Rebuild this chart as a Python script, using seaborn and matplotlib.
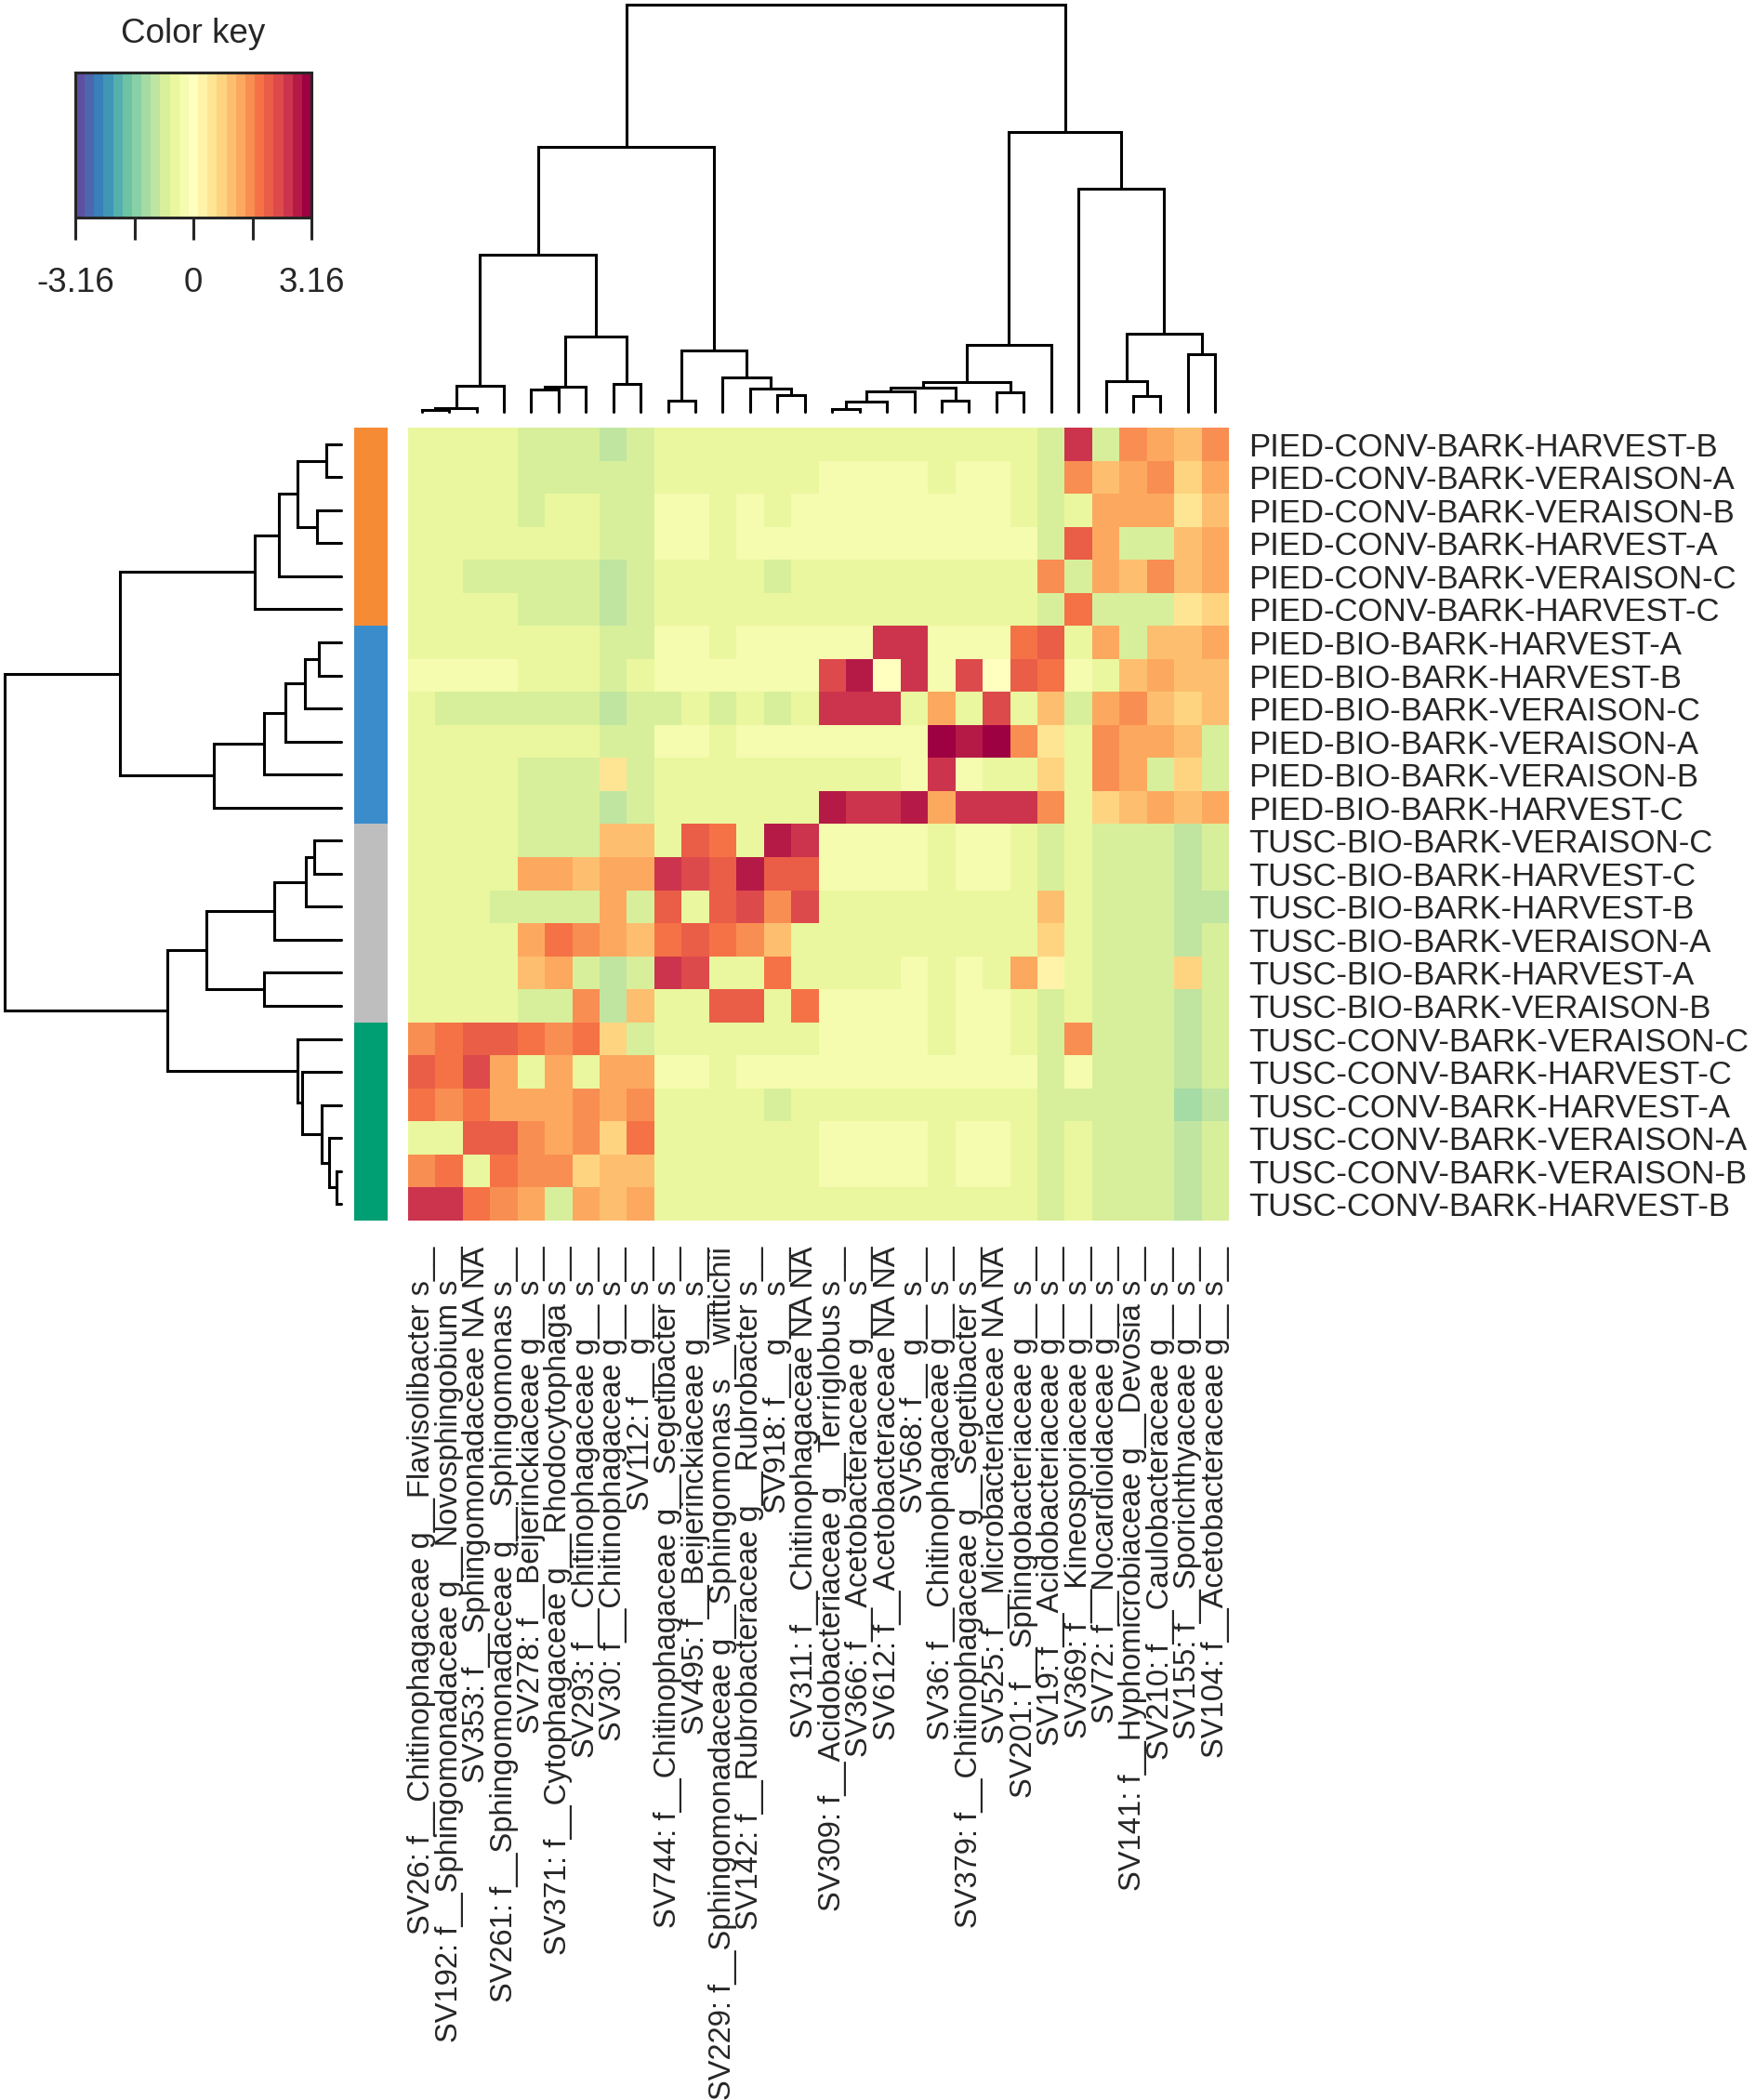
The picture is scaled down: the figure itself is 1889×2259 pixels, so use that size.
import numpy as np
import pandas as pd
import matplotlib
matplotlib.use("Agg")
import matplotlib.pyplot as plt
import seaborn as sns
from matplotlib.colors import LinearSegmentedColormap, ListedColormap, Normalize
from matplotlib.cm import ScalarMappable

# ---- data ----
samples = [
    "PIED-CONV-BARK-HARVEST-B", "PIED-CONV-BARK-VERAISON-A", "PIED-CONV-BARK-VERAISON-B",
    "PIED-CONV-BARK-HARVEST-A", "PIED-CONV-BARK-VERAISON-C", "PIED-CONV-BARK-HARVEST-C",
    "PIED-BIO-BARK-HARVEST-A", "PIED-BIO-BARK-HARVEST-B", "PIED-BIO-BARK-VERAISON-C",
    "PIED-BIO-BARK-VERAISON-A", "PIED-BIO-BARK-VERAISON-B", "PIED-BIO-BARK-HARVEST-C",
    "TUSC-BIO-BARK-VERAISON-C", "TUSC-BIO-BARK-HARVEST-C", "TUSC-BIO-BARK-HARVEST-B",
    "TUSC-BIO-BARK-VERAISON-A", "TUSC-BIO-BARK-HARVEST-A", "TUSC-BIO-BARK-VERAISON-B",
    "TUSC-CONV-BARK-VERAISON-C", "TUSC-CONV-BARK-HARVEST-C", "TUSC-CONV-BARK-HARVEST-A",
    "TUSC-CONV-BARK-VERAISON-A", "TUSC-CONV-BARK-VERAISON-B", "TUSC-CONV-BARK-HARVEST-B",
]

taxa = [
    "SV26: f__Chitinophagaceae g__Flavisolibacter s__",
    "SV192: f__Sphingomonadaceae g__Novosphingobium s__",
    "SV353: f__Sphingomonadaceae NA NA",
    "SV261: f__Sphingomonadaceae g__Sphingomonas s__",
    "SV278: f__Beijerinckiaceae g__ s__",
    "SV371: f__Cytophagaceae g__Rhodocytophaga s__",
    "SV293: f__Chitinophagaceae g__ s__",
    "SV30: f__Chitinophagaceae g__ s__",
    "SV112: f__ g__ s__",
    "SV744: f__Chitinophagaceae g__Segetibacter s__",
    "SV495: f__Beijerinckiaceae g__ s__",
    "SV229: f__Sphingomonadaceae g__Sphingomonas s__wittichii",
    "SV142: f__Rubrobacteraceae g__Rubrobacter s__",
    "SV918: f__ g__ s__",
    "SV311: f__Chitinophagaceae NA NA",
    "SV309: f__Acidobacteriaceae g__Terriglobus s__",
    "SV366: f__Acetobacteraceae g__ s__",
    "SV612: f__Acetobacteraceae NA NA",
    "SV568: f__ g__ s__",
    "SV36: f__Chitinophagaceae g__ s__",
    "SV379: f__Chitinophagaceae g__Segetibacter s__",
    "SV525: f__Microbacteriaceae NA NA",
    "SV201: f__Sphingobacteriaceae g__ s__",
    "SV19: f__Acidobacteriaceae g__ s__",
    "SV369: f__Kineosporiaceae g__ s__",
    "SV72: f__Nocardioidaceae g__ s__",
    "SV141: f__Hyphomicrobiaceae g__Devosia s__",
    "SV210: f__Caulobacteraceae g__ s__",
    "SV155: f__Sporichthyaceae g__ s__",
    "SV104: f__Acetobacteraceae g__ s__",
]

# z-scores, one row per sample (same order as samples)
zscores = [
    [-.5, -.5, -.5, -.5, -.75, -.75, -.75, -1, -.75, -.5, -.5, -.5, -.5, -.5, -.5, -.5, -.5, -.5, -.5, -.5, -.5, -.5, -.5, -.75, 2.5, -.75, 1.5, 1.25, 1, 1.5],
    [-.5, -.5, -.5, -.5, -.75, -.75, -.75, -.75, -.75, -.5, -.5, -.5, -.5, -.5, -.5, -.25, -.25, -.25, -.25, -.5, -.25, -.25, -.5, -.75, 1.5, 1, 1.25, 1.5, .75, 1.25],
    [-.5, -.5, -.5, -.5, -.75, -.5, -.5, -.75, -.75, -.25, -.25, -.5, -.25, -.5, -.25, -.25, -.25, -.25, -.25, -.25, -.25, -.25, -.5, -.75, -.5, 1.25, 1.25, 1.25, .5, 1],
    [-.5, -.5, -.5, -.5, -.5, -.5, -.5, -.75, -.75, -.25, -.25, -.5, -.25, -.25, -.25, -.25, -.25, -.25, -.25, -.25, -.25, -.25, -.25, -.75, 2, 1.25, -.75, -.75, 1, 1.25],
    [-.5, -.5, -.75, -.75, -.75, -.75, -.75, -1, -.75, -.5, -.5, -.5, -.5, -.75, -.5, -.5, -.5, -.5, -.5, -.5, -.5, -.5, -.5, 1.5, -.75, 1.25, 1, 1.5, 1, 1.25],
    [-.5, -.5, -.5, -.5, -.75, -.75, -.75, -1, -.75, -.5, -.5, -.5, -.5, -.5, -.5, -.5, -.5, -.5, -.5, -.5, -.5, -.5, -.5, -.75, 1.75, -.75, -.75, -.75, .5, .75],
    [-.5, -.5, -.5, -.5, -.5, -.5, -.5, -.75, -.75, -.25, -.25, -.5, -.25, -.25, -.25, -.25, -.25, 2.5, 2.5, -.25, -.25, -.25, 1.75, 2, -.5, 1.25, -.75, 1, 1, 1.25],
    [-.25, -.25, -.25, -.25, -.5, -.5, -.5, -.75, -.5, -.25, -.25, -.25, -.25, -.25, -.25, 2.25, 2.75, 0, 2.5, -.25, 2.25, 0, 2, 1.75, -.25, -.5, 1, 1.25, 1, 1],
    [-.5, -.75, -.75, -.75, -.75, -.75, -.75, -1, -.75, -.75, -.5, -.75, -.5, -.75, -.5, 2.5, 2.5, 2.5, -.5, 1.25, -.5, 2.25, -.5, 1, -.75, 1.25, 1.5, 1, .75, 1],
    [-.5, -.5, -.5, -.5, -.5, -.5, -.5, -.75, -.75, -.25, -.25, -.5, -.25, -.25, -.25, -.25, -.25, -.25, -.25, 3, 2.75, 3, 1.5, .5, -.5, 1.5, 1.25, 1.25, 1, -.75],
    [-.5, -.5, -.5, -.5, -.75, -.75, -.75, .5, -.75, -.5, -.5, -.5, -.5, -.5, -.5, -.5, -.5, -.5, -.25, 2.5, -.25, -.5, -.5, .75, -.5, 1.5, 1.25, -.75, .75, -.75],
    [-.5, -.5, -.5, -.5, -.75, -.75, -.75, -1, -.75, -.5, -.5, -.5, -.5, -.5, -.5, 2.75, 2.5, 2.5, 2.75, 1.25, 2.5, 2.5, 2.5, 1.5, -.5, .75, 1, 1.25, 1, 1.25],
    [-.5, -.5, -.5, -.5, -.75, -.75, -.75, 1, 1, -.5, 2, 1.75, -.5, 2.75, 2.5, -.25, -.25, -.25, -.25, -.5, -.25, -.25, -.5, -.75, -.5, -.75, -.75, -.75, -1, -.75],
    [-.5, -.5, -.5, -.5, 1.25, 1.25, 1, 1.25, 1.25, 2.5, 2.25, 2, 2.75, 2, 2, -.25, -.25, -.25, -.25, -.5, -.25, -.25, -.5, -.75, -.5, -.75, -.75, -.75, -1, -.75],
    [-.5, -.5, -.5, -.75, -.75, -.75, -.75, 1.25, -.75, 2, -.5, 2, 2.25, 1.5, 2.25, -.5, -.5, -.5, -.5, -.5, -.5, -.5, -.5, 1, -.5, -.75, -.75, -.75, -1, -1],
    [-.5, -.5, -.5, -.5, 1.25, 1.75, 1.5, 1.25, 1, 1.75, 2, 1.75, 1.5, 1, -.5, -.5, -.5, -.5, -.5, -.5, -.5, -.5, -.5, .75, -.5, -.75, -.75, -.75, -1, -.75],
    [-.5, -.5, -.5, -.5, 1, 1.25, -.75, -1, -.75, 2.5, 2.25, -.5, -.5, 1.75, -.5, -.5, -.5, -.5, -.25, -.5, -.25, -.5, 1.25, .25, -.5, -.75, -.75, -.75, .75, -.75],
    [-.5, -.5, -.5, -.5, -.75, -.75, 1.5, -1, 1, -.5, -.5, 2, 2, -.5, 1.75, -.25, -.25, -.25, -.25, -.5, -.25, -.25, -.5, -.75, -.5, -.75, -.75, -.75, -1, -.75],
    [1.5, 1.75, 2, 2, 1.75, 1.5, 1.75, .75, -.75, -.5, -.5, -.5, -.5, -.5, -.5, -.25, -.25, -.25, -.25, -.5, -.25, -.25, -.5, -.75, 1.5, -.75, -.75, -.75, -1, -.75],
    [2, 1.75, 2.25, 1.25, -.5, 1.25, -.5, 1.25, 1.25, -.25, -.25, -.5, -.25, -.25, -.25, -.25, -.25, -.25, -.25, -.25, -.25, -.25, -.25, -.75, -.25, -.75, -.75, -.75, -1, -.75],
    [1.75, 1.5, 1.75, 1.25, 1.25, 1.25, 1.5, 1.25, 1.5, -.5, -.5, -.5, -.5, -.75, -.5, -.5, -.5, -.5, -.5, -.5, -.5, -.5, -.5, -.75, -.75, -.75, -.75, -.75, -1.25, -1],
    [-.5, -.5, 2, 2, 1.5, 1.25, 1.5, .75, 1.75, -.5, -.5, -.5, -.5, -.5, -.5, -.25, -.25, -.25, -.25, -.5, -.25, -.25, -.5, -.75, -.5, -.75, -.75, -.75, -1, -.75],
    [1.5, 1.75, -.5, 1.75, 1.5, 1.5, .75, 1, 1, -.5, -.5, -.5, -.5, -.5, -.5, -.25, -.25, -.25, -.25, -.5, -.25, -.25, -.5, -.75, -.5, -.75, -.75, -.75, -1, -.75],
    [2.5, 2.5, 1.75, 1.5, 1.25, -.75, 1.25, 1, 1.25, -.5, -.5, -.5, -.5, -.5, -.5, -.5, -.5, -.5, -.5, -.5, -.5, -.5, -.5, -.75, -.5, -.75, -.75, -.75, -1, -.75],
]

# dendrogram merges: (left, right, height), leaves numbered in display order
col_merges = [
    (0, 1, 5), (30, 2, 12), (31, 3, 85), (4, 5, 72), (33, 6, 80), (7, 8, 90),
    (34, 35, 242), (32, 36, 507), (9, 10, 35), (13, 14, 53), (12, 39, 75),
    (11, 40, 112), (38, 41, 198), (37, 42, 855), (15, 16, 10), (44, 17, 33),
    (45, 18, 65), (19, 20, 35), (46, 47, 78), (21, 22, 62), (48, 49, 95),
    (50, 23, 217), (26, 27, 52), (25, 52, 100), (28, 29, 187), (53, 54, 253),
    (24, 55, 720), (51, 56, 903), (43, 57, 1315),
]
row_merges = [
    (0, 1, 47), (2, 3, 77), (24, 25, 140), (26, 4, 200), (27, 5, 278),
    (6, 7, 73), (29, 8, 118), (30, 9, 180), (31, 10, 250), (32, 11, 412),
    (28, 33, 713), (12, 13, 87), (35, 14, 115), (36, 15, 215), (16, 17, 250),
    (37, 38, 435), (22, 23, 15), (21, 40, 38), (20, 41, 63), (19, 42, 125),
    (18, 43, 140), (39, 44, 560), (34, 45, 1085),
]

group_colors = {"PIED-CONV": "#F68B35", "PIED-BIO": "#3B8CCB",
                "TUSC-BIO": "#BEBEBE", "TUSC-CONV": "#009E73"}
key_ticks = [-3.16, -1.58, 0, 1.58, 3.16]
key_labels = ["-3.16", "", "0", "", "3.16"]

# ---- styling ----
sns.set_style("white")
plt.rcParams["font.family"] = ["Liberation Sans", "DejaVu Sans"]

spectral = ["#5E4FA2", "#3288BD", "#66C2A5", "#ABDDA4", "#E6F598", "#FFFFBF",
            "#FEE08B", "#FDAE61", "#F46D43", "#D53E4F", "#9E0142"]
ramp = LinearSegmentedColormap.from_list("ramp", spectral, N=25)
cmap = ListedColormap(ramp(np.arange(25)))
vmin, vmax = key_ticks[0], key_ticks[-1]

W, H = 1889, 2259
fig = plt.figure(figsize=(W / 100, H / 100), dpi=100)


def box(x0, y0, x1, y1):
    return [x0 / W, 1 - y1 / H, (x1 - x0) / W, (y1 - y0) / H]


def dendro(merges, n):
    pos = {i: i + 0.5 for i in range(n)}
    hgt = {i: 0.0 for i in range(n)}
    segs = []
    for k, (a, b, h) in enumerate(merges):
        segs.append(([pos[a], pos[a], pos[b], pos[b]], [hgt[a], h, h, hgt[b]]))
        pos[n + k] = (pos[a] + pos[b]) / 2
        hgt[n + k] = h
    return segs


df = pd.DataFrame(zscores, index=samples, columns=taxa)

# main heatmap
ax = fig.add_axes(box(439, 460, 1322, 1313))
sns.heatmap(df, ax=ax, cmap=cmap, vmin=vmin, vmax=vmax, cbar=False,
            xticklabels=True, yticklabels=True)
ax.yaxis.tick_right()
ax.set_yticklabels(samples, rotation=0, fontsize=25)
ax.set_xticklabels(taxa, rotation=90, fontsize=23.5)
ax.tick_params(axis="y", length=0, pad=15)
ax.tick_params(axis="x", length=0, pad=20)
ax.set_xlabel("")
ax.set_ylabel("")

# row side colours
groups = ["-".join(s.split("-")[:2]) for s in samples]
gnames = list(group_colors)
side = pd.DataFrame({"g": [gnames.index(g) for g in groups]}, index=samples)
axs = fig.add_axes(box(381, 460, 417, 1313))
sns.heatmap(side, ax=axs, cmap=ListedColormap([group_colors[g] for g in gnames]),
            vmin=-0.5, vmax=len(gnames) - 0.5, cbar=False,
            xticklabels=False, yticklabels=False)

# column dendrogram
axt = fig.add_axes(box(439, 5, 1322, 443))
for xs, ys in dendro(col_merges, len(taxa)):
    axt.plot(xs, ys, color="black", lw=2.2, solid_joinstyle="miter", clip_on=False)
axt.set_xlim(0, len(taxa))
axt.set_ylim(0, col_merges[-1][2])
axt.axis("off")

# row dendrogram
axl = fig.add_axes(box(5, 460, 367, 1313))
for ys, xs in dendro(row_merges, len(samples)):
    axl.plot(xs, ys, color="black", lw=2.2, solid_joinstyle="miter", clip_on=False)
axl.set_xlim(row_merges[-1][2], 0)
axl.set_ylim(len(samples), 0)
axl.axis("off")

# colour key
axk = fig.add_axes(box(81, 78, 335, 234))
cb = fig.colorbar(ScalarMappable(norm=Normalize(vmin, vmax), cmap=cmap),
                  cax=axk, orientation="horizontal", ticks=key_ticks)
cb.ax.set_xticklabels(key_labels)
cb.outline.set_linewidth(2.2)
cb.ax.tick_params(length=17, width=2.2, labelsize=26.5, pad=21)
fig.text(208 / W, 1 - 37 / H, "Color key", ha="center", va="center", fontsize=26.5)

fig.savefig("out.png", dpi=100)
